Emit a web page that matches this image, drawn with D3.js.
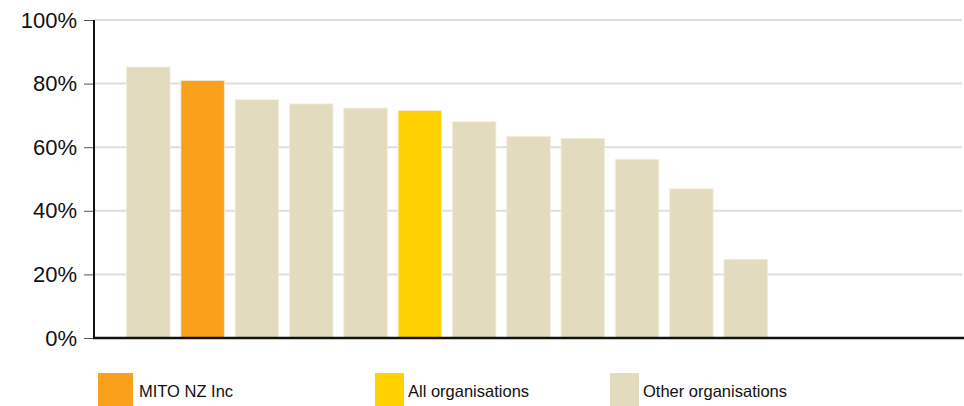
<!DOCTYPE html>
<html>
<head>
<meta charset="utf-8">
<script src="https://cdn.jsdelivr.net/npm/d3@7"></script>
<style>
  body { margin: 0; background: #fff; }
  .tick text { font-family: "Liberation Sans", Arial, sans-serif; }
  .legend text { font-family: "Liberation Sans", Arial, sans-serif; }
</style>
</head>
<body>
<div id="js_chart"></div>
<script>
// data
const orgs = ["o1", "MITO NZ Inc", "o3", "o4", "o5", "All organisations", "o7", "o8", "o9", "o10", "o11", "o12"];
const values = [85.2, 81.0, 74.9, 73.6, 72.3, 71.5, 68.0, 63.4, 62.8, 56.2, 46.9, 24.7];
const groups = ["other", "mito", "other", "other", "other", "all", "other", "other", "other", "other", "other", "other"];
const yTicks = [0, 20, 40, 60, 80, 100];
const legendLabels = ["MITO NZ Inc", "All organisations", "Other organisations"];
const legendKeys = ["mito", "all", "other"];

const colors = { mito: "#f9a11b", all: "#ffd200", other: "#e3dbbd" };

// ******************************************************
// Settings
// ******************************************************
let width = 964, height = 406;
let plot = { left: 94, right: 964, top: 20, bottom: 338 };

let x = d3.scaleBand()
    .domain(orgs)
    .range([plot.left, 800])
    .paddingInner(0.2)
    .paddingOuter(0.6);

let y = d3.scaleLinear()
    .domain([0, 100])
    .range([plot.bottom, plot.top]);

// ******************************************************
// svg
// ******************************************************
let svg = d3.select("#js_chart")
    .append("svg")
    .attr("width", width)
    .attr("height", height);

// gridlines
svg.append("g")
    .selectAll("line")
    .data(yTicks.filter(d => d > 0))
    .enter().append("line")
    .attr("x1", plot.left)
    .attr("x2", plot.right - 2)
    .attr("y1", d => y(d))
    .attr("y2", d => y(d))
    .attr("stroke", "#dedede")
    .attr("stroke-width", 2);

// bars
svg.append("g")
    .selectAll("rect")
    .data(values)
    .enter().append("rect")
    .attr("x", (d, i) => x(orgs[i]))
    .attr("width", x.bandwidth())
    .attr("y", d => y(d))
    .attr("height", d => y(0) - y(d))
    .attr("fill", (d, i) => colors[groups[i]])
    .attr("stroke", "#f2ecdb")
    .attr("stroke-width", 0.8);

// y axis
let yAxis = svg.append("g")
    .attr("transform", "translate(" + plot.left + ",0)")
    .call(d3.axisLeft(y)
        .tickValues(yTicks)
        .tickSize(10)
        .tickPadding(7)
        .tickFormat(d => d + "%"));
yAxis.select(".domain").remove();
yAxis.selectAll(".tick line").attr("stroke", "#555");
yAxis.selectAll(".tick text")
    .attr("font-size", 22)
    .attr("fill", "#111");

svg.append("line")
    .attr("x1", plot.left).attr("x2", plot.left)
    .attr("y1", plot.top).attr("y2", plot.bottom + 1)
    .attr("stroke", "#111").attr("stroke-width", 2);

svg.append("line")
    .attr("x1", plot.left - 1).attr("x2", plot.right)
    .attr("y1", plot.bottom).attr("y2", plot.bottom)
    .attr("stroke", "#111").attr("stroke-width", 2.5);

// ******************************************************
// legend
// ******************************************************
let legendX = [98, 375, 610];
let legend = svg.append("g").attr("class", "legend")
    .selectAll("g")
    .data(legendLabels)
    .enter().append("g")
    .attr("transform", (d, i) => "translate(" + legendX[i] + ",373)");

legend.append("rect")
    .attr("width", (d, i) => i == 0 ? 35 : 29)
    .attr("height", 33)
    .attr("fill", (d, i) => colors[legendKeys[i]]);

legend.append("text")
    .attr("x", (d, i) => i == 0 ? 41 : 33)
    .attr("y", 24)
    .attr("font-size", 16.5)
    .attr("fill", "#111")
    .text(d => d);
</script>
</body>
</html>
